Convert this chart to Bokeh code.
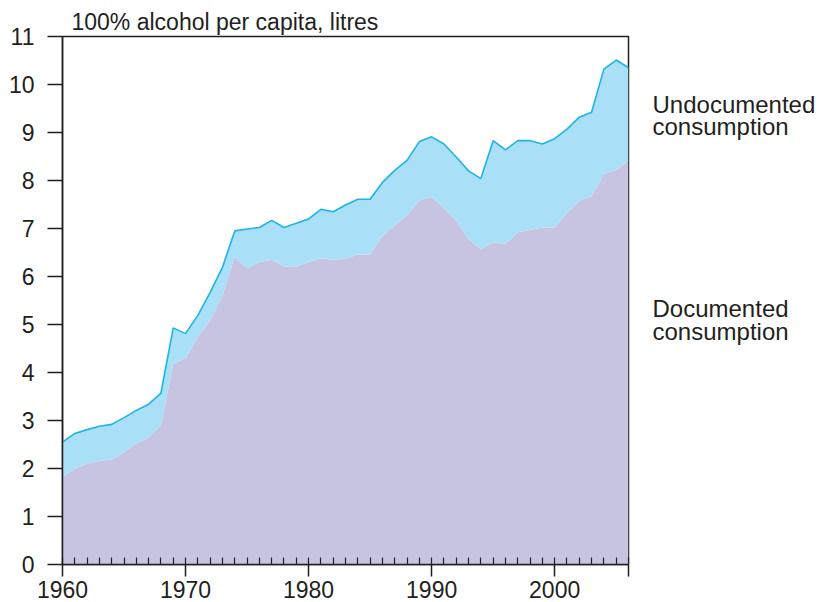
from bokeh.plotting import figure
from bokeh.models import FixedTicker, Title, Label
from bokeh.layouts import row
from bokeh.embed import file_html
from bokeh.resources import INLINE

# ---- data ----
years = list(range(1960, 2007))
documented = [1.82, 2.00, 2.10, 2.16, 2.19, 2.34, 2.52, 2.64, 2.90, 4.19,
              4.29, 4.74, 5.09, 5.60, 6.41, 6.17, 6.30, 6.35, 6.21, 6.21,
              6.30, 6.38, 6.35, 6.37, 6.46, 6.46, 6.85, 7.06, 7.27, 7.58,
              7.66, 7.42, 7.16, 6.78, 6.57, 6.71, 6.68, 6.92, 6.97, 7.02,
              7.02, 7.33, 7.58, 7.67, 8.14, 8.22, 8.41]
total = [2.55, 2.73, 2.81, 2.88, 2.92, 3.06, 3.21, 3.34, 3.57, 4.93,
         4.81, 5.19, 5.67, 6.19, 6.95, 6.99, 7.02, 7.17, 7.02, 7.11,
         7.20, 7.40, 7.35, 7.49, 7.61, 7.61, 7.96, 8.21, 8.42, 8.81,
         8.91, 8.76, 8.49, 8.20, 8.04, 8.83, 8.64, 8.83, 8.83, 8.76,
         8.87, 9.07, 9.32, 9.42, 10.32, 10.51, 10.35]
x_major_ticks = [1960, 1970, 1980, 1990, 2000, 2006]
y_ticks = list(range(0, 12))
title_text = "100% alcohol per capita, litres"
side_labels = ["Undocumented", "consumption", "Documented", "consumption"]
side_label_y = [9.59, 9.12, 5.34, 4.86]

INK = "#231f20"
FONT = "Liberation Sans"

p = figure(width=630, height=602, x_range=(1960, 2006), y_range=(0, 11),
           output_backend="svg", toolbar_location=None,
           min_border_left=62, min_border_right=2,
           min_border_top=36, min_border_bottom=38)
p.xgrid.visible = False
p.ygrid.visible = False
p.outline_line_color = INK
p.outline_line_width = 1.5
p.outline_line_alpha = 1.0
p.background_fill_color = "white"
p.border_fill_color = "white"

p.varea(x=years, y1=[0] * len(years), y2=documented, fill_color="#c7c4e2")
p.varea(x=years, y1=documented, y2=total, fill_color="#a9dff7")
p.line(x=years, y=total, line_color="#1eb4e6", line_width=1.6)

xa = p.xaxis[0]
xa.ticker = FixedTicker(ticks=x_major_ticks, minor_ticks=years)
xa.major_label_overrides = {2006: ""}
xa.major_tick_out = 12
xa.major_tick_in = 0
xa.minor_tick_in = 7
xa.minor_tick_out = 0
xa.axis_line_color = INK
xa.axis_line_width = 1.5
xa.major_tick_line_color = INK
xa.major_tick_line_width = 1.5
xa.minor_tick_line_color = INK
xa.minor_tick_line_width = 1.2
xa.major_label_text_font = FONT
xa.major_label_text_font_size = "23px"
xa.major_label_text_color = INK
xa.major_label_standoff = 4

ya = p.yaxis[0]
ya.ticker = FixedTicker(ticks=y_ticks)
ya.major_tick_out = 15
ya.major_tick_in = 0
ya.minor_tick_line_color = None
ya.axis_line_color = INK
ya.axis_line_width = 1.5
ya.major_tick_line_color = INK
ya.major_tick_line_width = 1.5
ya.major_label_text_font = FONT
ya.major_label_text_font_size = "23px"
ya.major_label_text_color = INK
ya.major_label_standoff = 13

p.add_layout(Title(text=title_text, align="left", offset=9, standoff=3,
                   text_font=FONT, text_font_size="23px",
                   text_font_style="normal", text_color=INK), "above")

# side panel with the two series labels
s = figure(width=188, height=602, x_range=(0, 1), y_range=p.y_range,
           output_backend="svg", toolbar_location=None,
           x_axis_location=None, y_axis_location=None,
           min_border_left=0, min_border_right=0,
           min_border_top=36, min_border_bottom=38)
s.xgrid.visible = False
s.ygrid.visible = False
s.outline_line_color = None
s.background_fill_color = "white"
s.border_fill_color = "white"
for txt, yv in zip(side_labels, side_label_y):
    s.add_layout(Label(x=0, y=yv, x_offset=22, text=txt,
                       text_baseline="alphabetic", text_align="left",
                       text_font=FONT, text_font_size="24px",
                       text_color=INK))

layout = row(p, s, spacing=0)
open("out.html", "w").write(file_html(layout, INLINE))
